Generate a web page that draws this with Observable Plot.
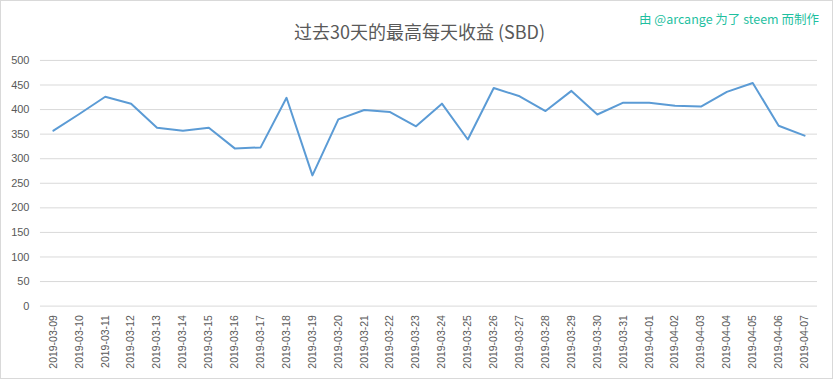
<!DOCTYPE html>
<html>
<head>
<meta charset="utf-8">
<script src="https://cdn.jsdelivr.net/npm/d3@7"></script>
<script src="https://cdn.jsdelivr.net/npm/@observablehq/plot@0.6"></script>
<style>
  html, body { margin: 0; padding: 0; background: #fff; }
  #wrap { position: relative; width: 833px; height: 379px; box-sizing: border-box; border: 1px solid #d9d9d9; overflow: hidden; font-family: "Noto Sans CJK SC", "Liberation Sans", sans-serif; }
  #title { position: absolute; left: 2px; width: 833px; top: 17px; text-align: center; font-size: 18px; color: #595959; line-height: 26px; font-family: "Noto Sans CJK SC", "Open Sans", sans-serif; }
  #credit { position: absolute; right: 13px; top: 8px; font-size: 12.5px; color: #1fbf9f; line-height: 20px; white-space: pre; font-family: "Noto Sans CJK SC", "DejaVu Sans", sans-serif; }
  #chart { position: absolute; left: -1px; top: -1px; }
</style>
</head>
<body>
<div id="wrap">
  <div id="chart"></div>
  <div id="title">过去30天的最高每天收益 (SBD)</div>
  <div id="credit">由 @arcange 为了 steem 而制作</div>
</div>
<script>
const dates = [
  "2019-03-09","2019-03-10","2019-03-11","2019-03-12","2019-03-13","2019-03-14","2019-03-15",
  "2019-03-16","2019-03-17","2019-03-18","2019-03-19","2019-03-20","2019-03-21","2019-03-22",
  "2019-03-23","2019-03-24","2019-03-25","2019-03-26","2019-03-27","2019-03-28","2019-03-29",
  "2019-03-30","2019-03-31","2019-04-01","2019-04-02","2019-04-03","2019-04-04","2019-04-05",
  "2019-04-06","2019-04-07"
];
const values = [
  357, 391, 426, 412, 363, 357, 363,
  321, 323, 424, 266, 380, 399, 395,
  366, 412, 339, 444, 427, 397, 438,
  390, 414, 414, 408, 406, 436, 454,
  367, 347
];
const yTicks = [0, 50, 100, 150, 200, 250, 300, 350, 400, 450, 500];

const data = dates.map((d, i) => ({date: d, value: values[i]}));

const chart = Plot.plot({
  width: 833,
  height: 379,
  marginTop: 60,
  marginBottom: 73,
  marginLeft: 40,
  marginRight: 15,
  style: { fontFamily: "'Liberation Sans', Arial, sans-serif", color: "#595959", background: "transparent", overflow: "visible" },
  x: { type: "point", domain: dates, padding: 0.5, round: false, label: null },
  y: { domain: [0, 500], label: null },
  marks: [
    Plot.gridY(yTicks, { stroke: "#d9d9d9", strokeOpacity: 1, strokeWidth: 1 }),
    Plot.axisY(yTicks, { tickSize: 0, tickPadding: 11, fontSize: 11, fill: "#595959", label: null }),
    Plot.axisX({ tickSize: 0, tickPadding: 9, tickRotate: -90, fontSize: 10.5, fill: "#595959", label: null }),
    Plot.line(data, { x: "date", y: "value", stroke: "#5b9bd5", strokeWidth: 2, strokeLinejoin: "round", strokeLinecap: "round" })
  ]
});
document.getElementById("chart").appendChild(chart);
</script>
</body>
</html>
